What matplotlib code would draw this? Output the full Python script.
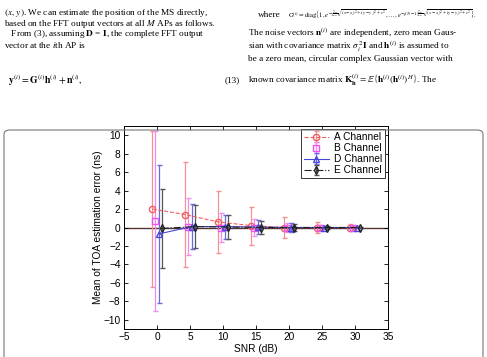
import numpy as np
import matplotlib.pyplot as plt
from matplotlib.patches import FancyBboxPatch

plt.rcParams['mathtext.fontset'] = 'stix'

snr = np.array([0, 5, 10, 15, 20, 25, 30])

# mean TOA error (ns) and spread per channel
a_mean = [2.0, 1.4, 0.6, 0.2, 0.0, 0.0, 0.0]
a_err = [8.5, 5.7, 3.35, 2.05, 1.15, 0.65, 0.35]
b_mean = [0.7, 0.1, 0.0, 0.0, 0.0, 0.0, 0.0]
b_err = [9.8, 3.05, 1.6, 0.95, 0.5, 0.25, 0.15]
d_mean = [-0.7, 0.1, 0.1, 0.05, 0.0, 0.0, 0.0]
d_err = [7.5, 2.4, 1.3, 0.8, 0.45, 0.2, 0.1]
e_mean = [-0.1, 0.1, 0.05, 0.0, 0.0, 0.0, 0.0]
e_err = [4.25, 2.3, 1.3, 0.7, 0.35, 0.15, 0.05]

fig = plt.figure(figsize=(4.87, 3.57), dpi=100)

# ---- page text above the figure ----
serif = 'Liberation Serif'
fs = 6.7
left_lines = [
    r"$(x,\,y)$. We can estimate the position of the MS directly,",
    r"based on the FFT output vectors at all $M$ APs as follows.",
    r"   From (3), assuming $\mathbf{D}$ = $\mathbf{I}$, the complete FFT output",
    r"vector at the $i$th AP is",
]
for k, s in enumerate(left_lines):
    fig.text(4 / 487, 1 - (13 + 10.7 * k) / 357, s, family=serif, fontsize=fs, va='center')
fig.text(8 / 487, 1 - 80 / 357,
         r"$\mathbf{y}^{(i)} = \mathbf{G}^{(i)}\mathbf{h}^{(i)} + \mathbf{n}^{(i)},$",
         family=serif, fontsize=fs + 0.3, va='center')
fig.text(240 / 487, 1 - 80 / 357, "(13)", family=serif, fontsize=fs, va='center', ha='right')

fig.text(258 / 487, 1 - 15 / 357, "where", family=serif, fontsize=fs, va='center')
fig.text(288 / 487, 1 - 15 / 357,
         r"$\mathrm{G}^{(i)}=\mathrm{diag}\left\{1, e^{-j\frac{2\pi}{LT}\sqrt{(x-x_i)^2+(y-y_i)^2+c^2}},\ldots,"
         r"e^{-j(N-1)\frac{2\pi}{LT}\sqrt{(x-x_i)^2+(y-y_i)^2+c^2}}\right\}.$",
         family=serif, fontsize=4.8, va='center')
right_lines = [
    (33, r"The noise vectors $\mathbf{n}^{(i)}$ are independent, zero mean Gaus-"),
    (47, r"sian with covariance matrix $\sigma_i^{\,2}\mathbf{I}$ and $\mathbf{h}^{(i)}$ is assumed to"),
    (59, r"be a zero mean, circular complex Gaussian vector with"),
    (80, r"known covariance matrix $\mathbf{K}_{\mathbf{h}}^{(i)} = \mathbb{E}\left\{\mathbf{h}^{(i)}\left(\mathbf{h}^{(i)}\right)^H\right\}$. The"),
]
for y, s in right_lines:
    fig.text(248 / 487, 1 - y / 357, s, family=serif, fontsize=fs, va='center')

# rounded frame around the figure
frame = FancyBboxPatch((4 / 487, -0.05), 479 / 487, (357 - 130) / 357 + 0.05,
                       boxstyle="round,pad=0,rounding_size=0.012",
                       transform=fig.transFigure, fill=False, ec='#777777', lw=0.8)
fig.patches.append(frame)

# ---- chart ----
ax = fig.add_axes([124 / 487, 1 - 329 / 357, 264 / 487, 203 / 357])
sans = 'Liberation Sans'

ax.axhline(0, color='#553333', lw=1.0, zorder=1)

cap = 1.8
ax.errorbar(snr - 0.7, a_mean, yerr=a_err, fmt='--o', color='#f06060', ecolor='#f49090',
            mfc='none', ms=4.5, lw=0.8, elinewidth=0.9, capsize=cap, label='A Channel', zorder=3)
ax.errorbar(snr - 0.25, b_mean, yerr=b_err, fmt='s', color='#ee55ee', ecolor='#f08cf0',
            mfc='none', ms=4, lw=0.8, elinewidth=0.9, capsize=cap, label='B Channel', zorder=3)
ax.errorbar(snr + 0.25, d_mean, yerr=d_err, fmt='-^', color='#4848d8', ecolor='#6a6ae0',
            mfc='none', ms=4.5, lw=0.8, elinewidth=0.9, capsize=cap, label='D Channel', zorder=3)
ax.errorbar(snr + 0.75, e_mean, yerr=e_err, fmt='-.d', color='#222222', ecolor='#555555',
            mfc='none', ms=4, lw=0.8, elinewidth=0.9, capsize=cap, label='E Channel', zorder=3)

ax.set_xlim(-5, 35)
ax.set_ylim(-11, 11)
ax.set_xticks(np.arange(-5, 36, 5))
ax.set_yticks(np.arange(-10, 11, 2))
ax.tick_params(direction='in', top=True, right=True, length=3, width=0.6, labelsize=7.3,
               pad=2.5)
for lab in ax.get_xticklabels() + ax.get_yticklabels():
    lab.set_family(sans)
for sp in ax.spines.values():
    sp.set_linewidth(0.7)

ax.set_xlabel('SNR (dB)', family=sans, fontsize=7.3, labelpad=1)
ax.set_ylabel('Mean of TOA estimation error (ns)', family=sans, fontsize=7.3, labelpad=0)

leg = ax.legend(loc='upper right', prop={'family': sans, 'size': 7.3}, fancybox=False,
                edgecolor='#333333', framealpha=1, handlelength=2.4, borderpad=0.3,
                labelspacing=0.1, handletextpad=0.5, borderaxespad=0.3)
leg.get_frame().set_linewidth(0.7)

fig.savefig('out.png', dpi=100)
